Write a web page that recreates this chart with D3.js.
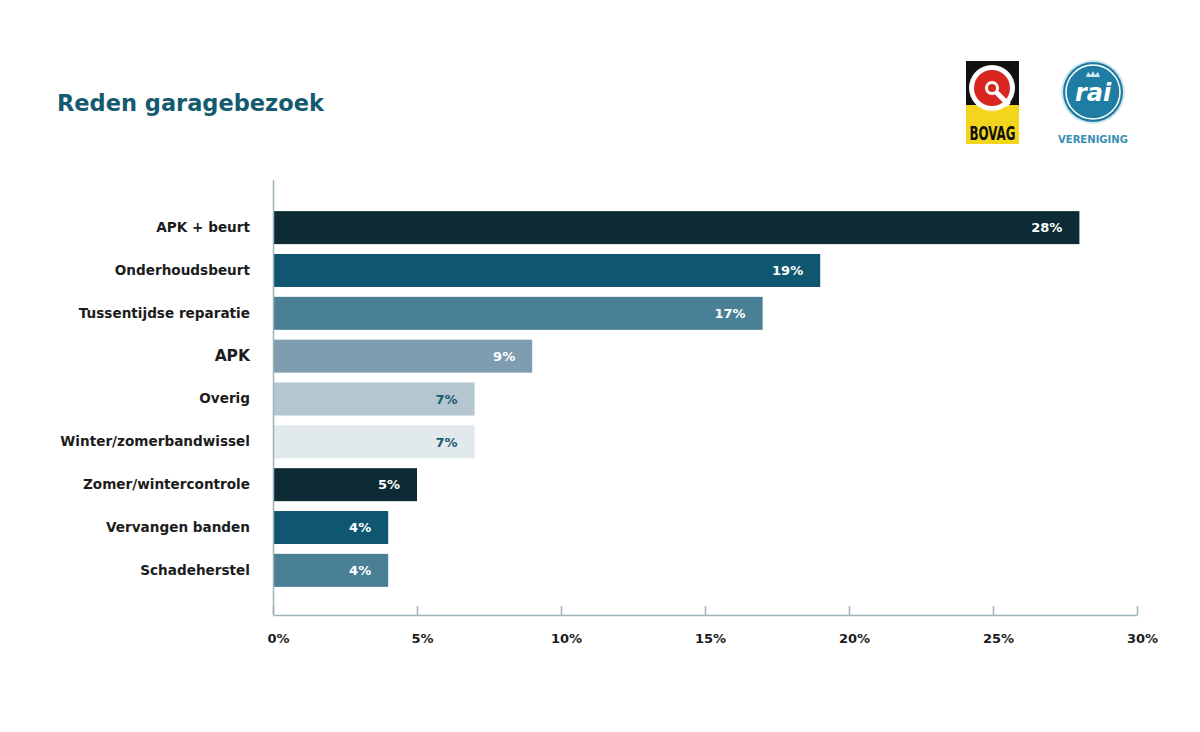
<!DOCTYPE html>
<html>
<head>
<meta charset="utf-8">
<script src="https://cdn.jsdelivr.net/npm/d3@7"></script>
<style>
  body { margin: 0; background: #fff; }
  text { font-family: "DejaVu Sans", sans-serif; font-weight: bold; }
</style>
</head>
<body>
<script>
const width = 1200;
const height = 732;

// data
const categories = ['APK + beurt', 'Onderhoudsbeurt', 'Tussentijdse reparatie', 'APK', 'Overig',
  'Winter/zomerbandwissel', 'Zomer/wintercontrole', 'Vervangen banden', 'Schadeherstel'];
const values = [28, 19, 17, 9, 7, 7, 5, 4, 4];
const barColors = ['#0c2b34', '#0f5770', '#4a8096', '#7e9db0', '#b4c6d0', '#e2e9ed', '#0c2b34', '#0f5770', '#4a8096'];
const labelColors = ['#fff', '#fff', '#fff', '#fff', '#1b5a70', '#1b5a70', '#fff', '#fff', '#fff'];
const tickValues = [0, 5, 10, 15, 20, 25, 30];

const rows = categories.map((c, i) => ({ name: c, value: values[i], color: barColors[i], label: labelColors[i] }));

const svg = d3.select('body')
  .append('svg')
  .attr('width', width)
  .attr('height', height);

const x = d3.scaleLinear().domain([0, 30]).range([273, 1137]);
const y = d3.scaleBand()
  .domain(categories)
  .range([206, 592])
  .paddingInner(0.23)
  .paddingOuter(0.12);

// title
svg.append('text')
  .attr('x', 57)
  .attr('y', 111)
  .attr('fill', '#155b70')
  .style('font-size', '22.5px')
  .text('Reden garagebezoek');

// bars
svg.selectAll('rect.bar')
  .data(rows)
  .join('rect')
  .attr('class', 'bar')
  .attr('x', x(0))
  .attr('y', d => y(d.name))
  .attr('width', d => x(d.value) - x(0))
  .attr('height', y.bandwidth())
  .attr('fill', d => d.color);

svg.selectAll('text.val')
  .data(rows)
  .join('text')
  .attr('class', 'val')
  .attr('x', d => x(d.value) - 17)
  .attr('y', d => y(d.name) + y.bandwidth() / 2)
  .attr('dy', '0.36em')
  .attr('text-anchor', 'end')
  .attr('fill', d => d.label)
  .style('font-size', '13px')
  .text(d => d.value + '%');

// y axis: labels + vertical line
const yAxis = svg.append('g')
  .attr('transform', `translate(${x(0)},0)`)
  .call(d3.axisLeft(y).tickSize(0).tickPadding(23));
yAxis.select('.domain').remove();
yAxis.selectAll('text')
  .attr('fill', '#1c1c1c')
  .style('font-size', d => d === 'APK' ? '15.5px' : '13.6px');

svg.append('line')
  .attr('x1', x(0) + 0.5).attr('x2', x(0) + 0.5)
  .attr('y1', 180).attr('y2', 615)
  .attr('stroke', '#9fb2b9')
  .attr('stroke-width', 1.5);

// x axis
const xAxis = svg.append('g')
  .attr('transform', 'translate(0,615)')
  .call(d3.axisBottom(x)
    .tickValues(tickValues)
    .tickSize(-9)
    .tickSizeOuter(0)
    .tickPadding(19)
    .tickFormat(d => d + '%'));
xAxis.select('.domain').attr('stroke', '#9fb2b9').attr('stroke-width', 1.5);
xAxis.selectAll('.tick line').attr('stroke', '#9fb2b9').attr('stroke-width', 1.5);
xAxis.selectAll('.tick text')
  .attr('dx', 5)
  .attr('fill', '#1c1c1c')
  .style('font-size', '13px');

// BOVAG logo
const bovag = svg.append('g').attr('transform', 'translate(966,61)');
bovag.append('rect').attr('width', 53).attr('height', 44).attr('fill', '#111');
bovag.append('rect').attr('y', 44).attr('width', 53).attr('height', 39).attr('fill', '#f2d51c');
bovag.append('circle').attr('cx', 26).attr('cy', 27).attr('r', 23).attr('fill', '#fff');
bovag.append('circle').attr('cx', 26).attr('cy', 27).attr('r', 18).attr('fill', '#d8251f');
bovag.append('line')
  .attr('x1', 26).attr('y1', 27).attr('x2', 43).attr('y2', 44)
  .attr('stroke', '#fff').attr('stroke-width', 5);
bovag.append('circle').attr('cx', 26).attr('cy', 27).attr('r', 5.5)
  .attr('fill', '#d8251f').attr('stroke', '#fff').attr('stroke-width', 3);
bovag.append('text')
  .attr('x', 26.5).attr('y', 79)
  .attr('text-anchor', 'middle')
  .attr('fill', '#111')
  .attr('textLength', 46)
  .attr('lengthAdjust', 'spacingAndGlyphs')
  .style('font-family', '"Liberation Sans Narrow", "DejaVu Sans Condensed", sans-serif')
  .style('font-size', '20px')
  .text('BOVAG');

// RAI logo
const rai = svg.append('g').attr('transform', 'translate(1093,92)');
rai.append('circle').attr('r', 32).attr('fill', '#d3e8f0');
rai.append('circle').attr('r', 30).attr('fill', '#1f7ca3');
rai.append('circle').attr('r', 27).attr('fill', 'none').attr('stroke', '#fff').attr('stroke-width', 1.5);
rai.append('path')
  .attr('d', 'M-7,-15 L-5,-20 L-2,-17 L0,-21 L2,-17 L5,-20 L7,-15 Z')
  .attr('fill', '#cfe6ef');
rai.append('text')
  .attr('y', 9)
  .attr('text-anchor', 'middle')
  .attr('fill', '#fff')
  .style('font-size', '24px')
  .style('font-style', 'italic')
  .text('rai');
svg.append('text')
  .attr('x', 1093).attr('y', 143)
  .attr('text-anchor', 'middle')
  .attr('fill', '#3a8db3')
  .attr('textLength', 70)
  .attr('lengthAdjust', 'spacingAndGlyphs')
  .style('font-size', '11px')
  .text('VERENIGING');
</script>
</body>
</html>
